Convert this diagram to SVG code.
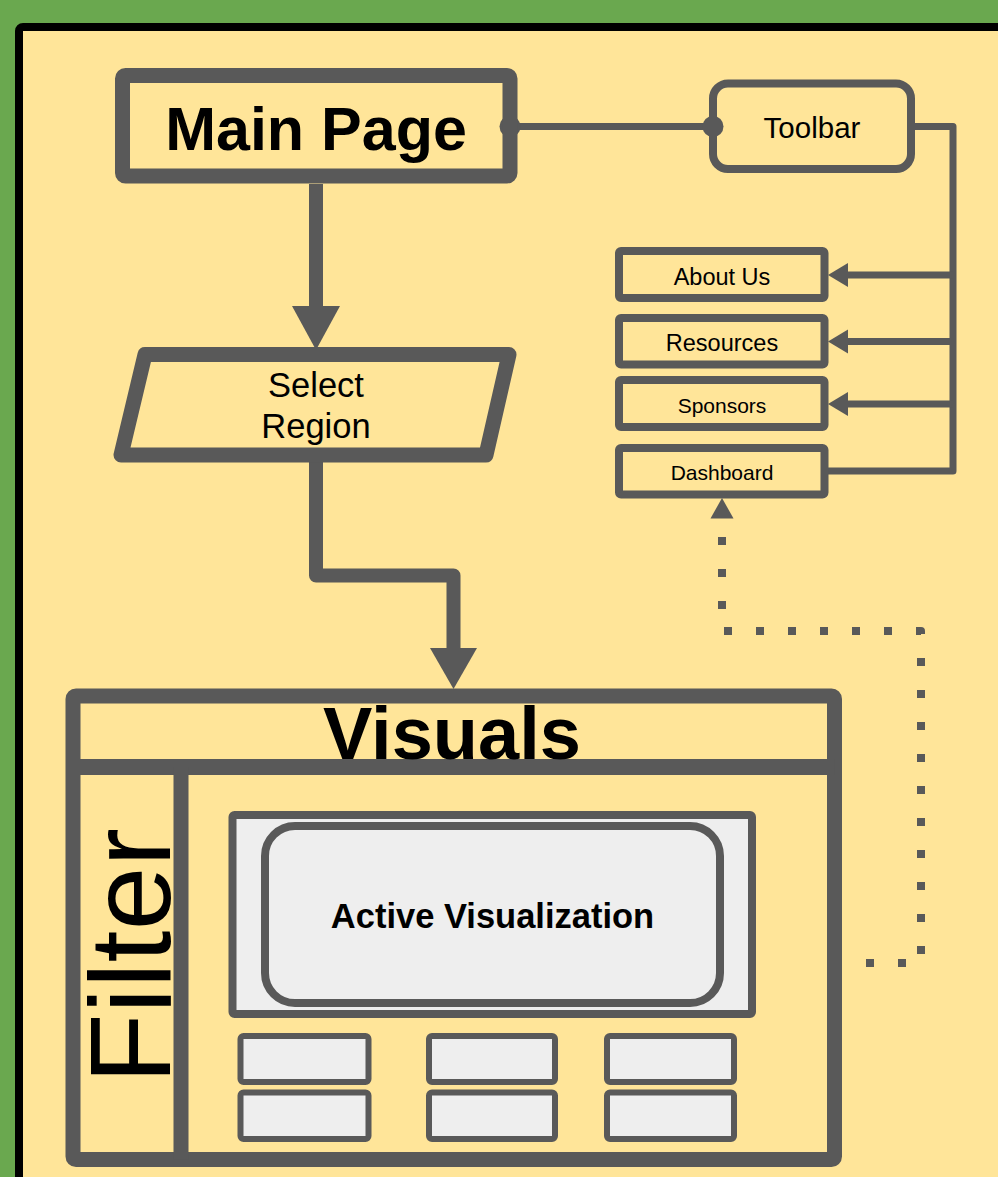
<svg xmlns="http://www.w3.org/2000/svg" width="998" height="1177" viewBox="0 0 998 1177">
<style>
.t{font-family:"Liberation Sans",Arial,sans-serif;fill:#000;text-anchor:middle}
.b{font-weight:bold}
.box{fill:none;stroke:#595959;stroke-linejoin:round}
.lite{fill:#eeeeee;stroke:#595959;stroke-linejoin:round}
.ln{fill:none;stroke:#595959;stroke-linejoin:round}
.ah{fill:#595959}
</style>
<rect x="0" y="0" width="998" height="1177" fill="#6aa84f"/>
<rect x="19" y="27" width="1000" height="1200" rx="4" fill="#ffe599" stroke="#000" stroke-width="8"/>
<g id="connectors">
<line class="ln" x1="510" y1="126.5" x2="713" y2="126.5" stroke-width="7"/>
<circle class="ah" cx="510" cy="126.5" r="10.5"/>
<circle class="ah" cx="713" cy="126.5" r="10.5"/>
<path class="ln" d="M911 126.5 H953 V471 H828" stroke-width="7"/>
<path class="ln" d="M953 275 H846 M953 341.5 H846 M953 404 H846" stroke-width="7"/>
<polygon class="ah" points="828,275 848,263 848,287"/>
<polygon class="ah" points="828,341.5 848,329.5 848,353.5"/>
<polygon class="ah" points="828,404 848,392 848,416"/>
<line class="ln" x1="316" y1="184" x2="316" y2="308" stroke-width="14"/>
<polygon class="ah" points="292,306 340,306 316,350"/>
<path class="ln" d="M316 462 V575.5 H453.5 V650" stroke-width="14"/>
<polygon class="ah" points="430,648 477,648 453.5,689"/>
<path class="ln" d="M842 963 H921 V631 H722 V518" stroke-width="8" stroke-dasharray="8 24" stroke-dashoffset="8" stroke-linejoin="miter"/>
<polygon class="ah" points="722,498 710.5,518.5 733.5,518.5"/>
</g>
<g id="main-page">
<rect class="box" x="122.5" y="75.5" width="387.5" height="100.5" rx="3" stroke-width="15"/>
<text class="t b" x="316" y="150" font-size="61">Main Page</text>
</g>
<g id="toolbar">
<rect class="box" x="713" y="83.5" width="198" height="85.5" rx="15" stroke-width="8"/>
<text class="t" x="812" y="138" font-size="29.5">Toolbar</text>
</g>
<g id="about-us">
<rect class="box" x="619" y="251" width="205.5" height="47" rx="2" stroke-width="8"/>
<text class="t" x="722" y="285" font-size="23.5">About Us</text>
</g>
<g id="resources">
<rect class="box" x="619" y="318" width="205.5" height="46.5" rx="2" stroke-width="8"/>
<text class="t" x="722" y="351" font-size="23.5">Resources</text>
</g>
<g id="sponsors">
<rect class="box" x="619" y="380" width="205.5" height="47" rx="2" stroke-width="8"/>
<text class="t" x="722" y="412.5" font-size="21">Sponsors</text>
</g>
<g id="dashboard">
<rect class="box" x="619" y="448" width="205.5" height="46.5" rx="2" stroke-width="8"/>
<text class="t" x="722" y="480" font-size="21">Dashboard</text>
</g>
<g id="select-region">
<polygon class="box" points="145,354.5 509,354.5 486,455 121,455" stroke-width="15"/>
<text class="t" x="316" y="396.5" font-size="34.5">Select</text>
<text class="t" x="316" y="438" font-size="34.5">Region</text>
</g>
<g id="visuals">
<rect class="box" x="73" y="696" width="761.5" height="463.5" rx="3" stroke-width="15"/>
<line class="ln" x1="73" y1="767" x2="834.5" y2="767" stroke-width="16"/>
<line class="ln" x1="181" y1="767" x2="181" y2="1159.5" stroke-width="15"/>
<text class="t b" x="452" y="759" font-size="74">Visuals</text>
</g>
<g id="filter">
<text class="t" transform="translate(170,956) rotate(-90)" x="0" y="0" font-size="115">Filter</text>
</g>
<g id="active-visualization">
<rect class="lite" x="232.5" y="815" width="519.5" height="199" rx="2" stroke-width="8"/>
<rect class="lite" x="265" y="826" width="455" height="177" rx="30" stroke-width="8"/>
<text class="t b" x="492.5" y="928" font-size="34.5">Active Visualization</text>
</g>
<g id="thumb-1"><rect class="lite" x="240.5" y="1036" width="128" height="46" rx="3" stroke-width="6"/></g>
<g id="thumb-2"><rect class="lite" x="240.5" y="1092.5" width="128" height="46.5" rx="3" stroke-width="6"/></g>
<g id="thumb-3"><rect class="lite" x="429" y="1036" width="126" height="46" rx="3" stroke-width="6"/></g>
<g id="thumb-4"><rect class="lite" x="429" y="1092.5" width="126" height="46.5" rx="3" stroke-width="6"/></g>
<g id="thumb-5"><rect class="lite" x="607" y="1036" width="127" height="46" rx="3" stroke-width="6"/></g>
<g id="thumb-6"><rect class="lite" x="607" y="1092.5" width="127" height="46.5" rx="3" stroke-width="6"/></g>
</svg>
